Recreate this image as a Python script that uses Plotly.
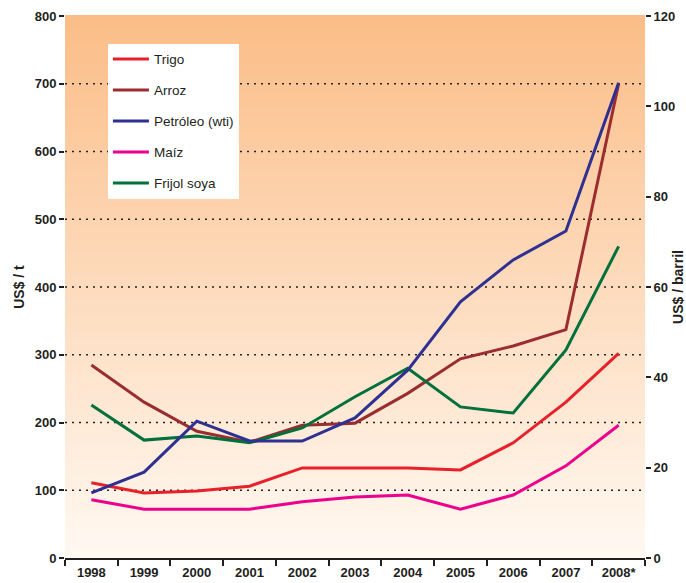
import plotly.graph_objects as go

years = ["1998", "1999", "2000", "2001", "2002", "2003", "2004", "2005", "2006", "2007", "2008*"]
trigo = [111, 96, 99, 106, 133, 133, 133, 130, 170, 230, 302]
arroz = [285, 230, 187, 171, 196, 199, 243, 294, 313, 337, 700]
petroleo = [14.4, 19, 30.3, 25.9, 25.9, 31, 41.6, 56.7, 66, 72.4, 105.2]
maiz = [86, 72, 72, 72, 83, 90, 93, 72, 93, 136, 196]
frijol = [226, 174, 180, 170, 192, 238, 280, 223, 214, 307, 460]
grid_values = [100, 200, 300, 400, 500, 600, 700]

fig = go.Figure()
series = [
    ("Trigo", trigo, "#E8202A", "y"),
    ("Arroz", arroz, "#9B2D30", "y"),
    ("Petróleo (wti)", petroleo, "#2E3192", "y2"),
    ("Maíz", maiz, "#EC008C", "y"),
    ("Frijol soya", frijol, "#00703C", "y"),
]
for name, vals, col, ax in series:
    fig.add_trace(go.Scatter(x=years, y=vals, name=name, mode="lines",
                             line=dict(color=col, width=3), yaxis=ax,
                             legendgroup=name))

# gradient background
N = 90
top = (251, 189, 135)
bot = (255, 249, 242)
shapes = []
for i in range(N):
    t = (i + 0.5) / N
    c = tuple(round(bot[k] + (top[k] - bot[k]) * t) for k in range(3))
    shapes.append(dict(type="rect", xref="x domain", yref="y domain",
                       x0=0, x1=1, y0=i / N, y1=(i + 1) / N + 0.002,
                       fillcolor="rgb(%d,%d,%d)" % c, line=dict(width=0),
                       layer="below"))
for g in grid_values:
    shapes.append(dict(type="line", xref="x domain", yref="y", x0=0, x1=1,
                       y0=g, y1=g, line=dict(color="#222", width=1.6, dash="2px,5px"),
                       layer="below"))

tickfont = dict(family="Liberation Sans Narrow, Arial Narrow, Liberation Sans",
                size=13, color="#231f20", weight="bold")
titlefont = dict(family="Liberation Sans Narrow, Arial Narrow, Liberation Sans",
                 size=14, color="#231f20", weight="bold")

fig.update_layout(
    width=686, height=583,
    margin=dict(l=65, r=41, t=16, b=25, autoexpand=False),
    paper_bgcolor="white", plot_bgcolor="white",
    shapes=shapes,
    showlegend=True,
    legend=dict(x=0.074, y=0.949, xanchor="left", yanchor="top",
                bgcolor="white", borderwidth=0, tracegroupgap=10.5,
                itemwidth=36,
                font=dict(family="Liberation Sans, Arial", size=13.5, color="#231f20")),
    xaxis=dict(type="category", categoryorder="array", categoryarray=years,
               range=[-0.5, 10.5], automargin=False,
               tickson="boundaries", ticks="outside", ticklen=6, tickwidth=1.5,
               tickcolor="#231f20", showline=True, linecolor="#231f20", linewidth=1.5,
               showgrid=False, tickfont=tickfont, fixedrange=True, ticklabelstandoff=2),
    yaxis=dict(range=[0, 800], dtick=100, ticks="outside", ticklen=5, tickwidth=1.5,
               tickcolor="#231f20", showline=False, showgrid=False, zeroline=False,
               tickfont=tickfont, automargin=False, fixedrange=True,
               title=dict(text="US$ / t", font=titlefont, standoff=6)),
    yaxis2=dict(range=[0, 120], dtick=20, overlaying="y", side="right",
                ticks="outside", ticklen=5, tickwidth=1.5, tickcolor="#231f20",
                showline=False, showgrid=False, zeroline=False, tickfont=tickfont,
                automargin=False, fixedrange=True,
                title=dict(text="US$ / barril", font=titlefont, standoff=6)),
)

fig.write_html("out.html", config={"displayModeBar": False},
               post_script="document.body.style.margin='0px';document.body.style.overflow='hidden';")
